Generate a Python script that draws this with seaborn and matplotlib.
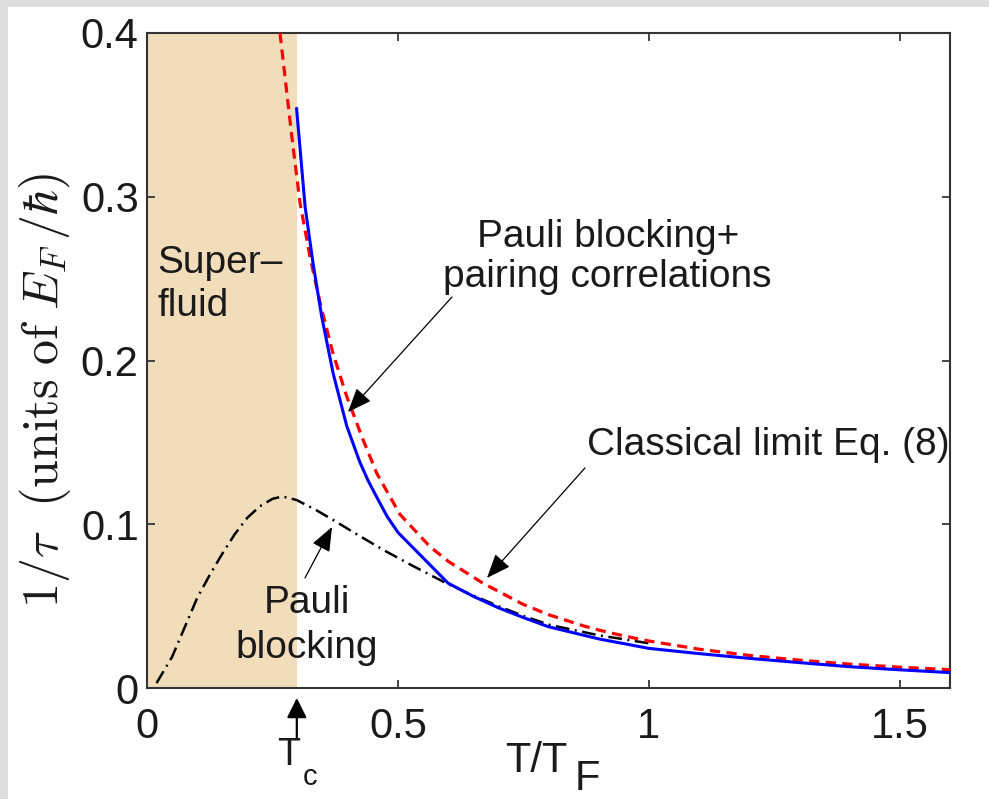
import matplotlib
matplotlib.use("Agg")
import matplotlib.pyplot as plt
import seaborn as sns
from matplotlib.patches import Rectangle

# ---------------- data ----------------
T_red = [0.265, 0.278, 0.29, 0.305, 0.325, 0.345, 0.37, 0.398, 0.43, 0.458, 0.504, 0.564, 0.60,
         0.67, 0.75, 0.80, 0.869, 0.90, 0.95, 1.0, 1.1, 1.2, 1.3, 1.4, 1.5, 1.6]
v_red = [0.400, 0.365, 0.333, 0.296, 0.263, 0.235, 0.205, 0.178, 0.152, 0.131, 0.106, 0.0863, 0.0774,
         0.0639, 0.0510, 0.0448, 0.0380, 0.0354, 0.0318, 0.0287, 0.0237, 0.0199, 0.0170, 0.0146, 0.0127, 0.0112]

T_blue = [0.298, 0.315, 0.331, 0.348, 0.371, 0.398, 0.424, 0.44, 0.457, 0.478, 0.50, 0.60, 0.65, 0.70,
          0.75, 0.80, 0.90, 1.0, 1.1, 1.2, 1.3, 1.4, 1.5, 1.6]
v_blue = [0.354, 0.294, 0.259, 0.227, 0.192, 0.160, 0.138, 0.127, 0.117, 0.105, 0.095, 0.064, 0.056, 0.049,
          0.043, 0.0374, 0.030, 0.0242, 0.021, 0.0181, 0.0155, 0.013, 0.0111, 0.0094]

T_black = [0.019, 0.05, 0.075, 0.10, 0.125, 0.15, 0.175, 0.20, 0.225, 0.25, 0.27, 0.298, 0.335,
           0.371, 0.42, 0.471, 0.53, 0.597, 0.65, 0.70, 0.75, 0.803, 0.90, 1.0]
v_black = [0.003, 0.019, 0.037, 0.055, 0.069, 0.082, 0.094, 0.104, 0.111, 0.1155, 0.117, 0.1148, 0.109,
           0.1026, 0.0935, 0.0843, 0.0745, 0.0639, 0.0565, 0.050, 0.0440, 0.0385, 0.0322, 0.0273]

T_c = 0.2985
x_ticks = [0, 0.5, 1, 1.5]
x_ticklabels = ["0", "0.5", "1", "1.5"]
y_ticks = [0, 0.1, 0.2, 0.3, 0.4]
y_ticklabels = ["0", "0.1", "0.2", "0.3", "0.4"]

# ---------------- style ----------------
sns.set_style("ticks")
plt.rcParams["font.family"] = ["Liberation Sans", "DejaVu Sans"]
plt.rcParams["mathtext.fontset"] = "cm"

TXT = "#1a1a1a"
fig = plt.figure(figsize=(9.89, 7.99), dpi=100)
fig.patch.set_facecolor("white")
ax = fig.add_axes([147/989, 111/799, 803/989, 655/799])

ax.axvspan(0, T_c, facecolor="#f2ddbb", edgecolor="none", zorder=0)

sns.lineplot(x=T_red, y=v_red, ax=ax, color="#ff0000", lw=2.3, sort=False,
             estimator=None, zorder=3).lines[-1].set_dashes((3.2, 2.0))
sns.lineplot(x=T_black, y=v_black, ax=ax, color="black", lw=1.8, sort=False,
             estimator=None, zorder=2).lines[-1].set_dashes((5.5, 2.2, 0.8, 2.2))
sns.lineplot(x=T_blue, y=v_blue, ax=ax, color="#0000ff", lw=2.2, sort=False,
             estimator=None, zorder=4)

ax.set_xlim(0, 1.6)
ax.set_ylim(0, 0.4)
ax.set_xticks(x_ticks)
ax.set_xticklabels(x_ticklabels)
ax.set_yticks(y_ticks)
ax.set_yticklabels(y_ticklabels)
ax.tick_params(direction="in", length=6, width=1.2, top=True, right=True,
               labelsize=30, colors="#262626", labelcolor=TXT)
ax.tick_params(axis="x", pad=14)
ax.tick_params(axis="y", pad=6)
for s in ax.spines.values():
    s.set_linewidth(1.5)
    s.set_color("#333333")
ax.set_xlabel("")
ax.set_ylabel("")

# ---------------- texts ----------------
fs = 28
ax.text(0.02, 0.2534, "Super\u2013", fontsize=fs, color=TXT, ha="left", va="baseline")
ax.text(0.02, 0.227, "fluid", fontsize=fs, color=TXT, ha="left", va="baseline")
ax.text(0.918, 0.2693, "Pauli blocking+", fontsize=fs, color=TXT, ha="center", va="baseline")
ax.text(0.918, 0.2449, "pairing correlations", fontsize=fs, color=TXT, ha="center", va="baseline")
ax.text(0.8767, 0.1423, "Classical limit Eq. (8)", fontsize=fs, color=TXT, ha="left", va="baseline")
ax.text(0.3188, 0.0458, "Pauli", fontsize=fs, color=TXT, ha="center", va="baseline")
ax.text(0.3188, 0.0183, "blocking", fontsize=fs, color=TXT, ha="center", va="baseline")

arrow_kw = dict(arrowstyle="-|>,head_length=0.75,head_width=0.3", color="black",
                lw=0.9, shrinkA=0, shrinkB=0, mutation_scale=20)
ax.annotate("", xy=(0.4005, 0.1685), xytext=(0.6077, 0.2388), arrowprops=arrow_kw)
ax.annotate("", xy=(0.6774, 0.0672), xytext=(0.8727, 0.1344), arrowprops=arrow_kw)
ax.annotate("", xy=(0.3686, 0.0983), xytext=(0.3148, 0.0672), arrowprops=arrow_kw)

# Tc marker below axis
ax.annotate("", xy=(T_c, -0.0061), xytext=(T_c, -0.0305), annotation_clip=False,
            arrowprops=dict(arrowstyle="-|>,head_length=0.6,head_width=0.3", color="black",
                            lw=1.6, shrinkA=0, shrinkB=0, mutation_scale=20))
ax.text(0.2825, -0.047, "T", fontsize=27, color=TXT, ha="center", va="baseline", clip_on=False)
ax.text(0.311, -0.0592, "c", fontsize=21, color=TXT, ha="left", va="baseline", clip_on=False)

# x label
ax.text(0.7133, -0.0513, "T/T", fontsize=30, color=TXT, ha="left", va="baseline", clip_on=False)
ax.text(0.8528, -0.0620, "F", fontsize=30, color=TXT, ha="left", va="baseline", clip_on=False)

# y label
fig.text(45/989, 1 - 390/799, r"$1/\tau\ \ (\mathrm{units\ of}\ E_F\,/\hbar)$",
         fontsize=36, color=TXT, rotation=90, ha="center", va="center")

# light gray frame strips (top and left)
fig.patches.append(Rectangle((0, 1 - 7/799), 1, 7/799, transform=fig.transFigure,
                             facecolor="#dddddd", edgecolor="none", zorder=-1))
fig.patches.append(Rectangle((0, 0), 8/989, 1, transform=fig.transFigure,
                             facecolor="#dddddd", edgecolor="none", zorder=-1))

fig.savefig("out.png", dpi=100)
